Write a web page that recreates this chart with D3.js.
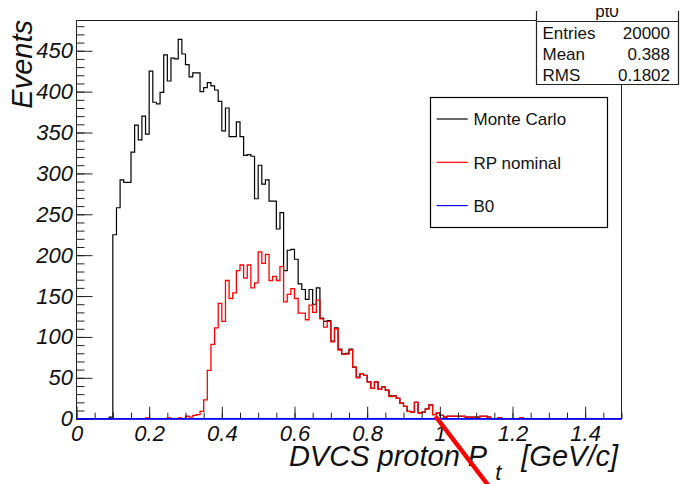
<!DOCTYPE html>
<html>
<head>
<meta charset="utf-8">
<script src="https://cdn.jsdelivr.net/npm/d3@7"></script>
<style>
  html, body { margin: 0; padding: 0; background: #fff; }
  svg { display: block; font-family: "Liberation Sans", Arial, Helvetica, sans-serif; }
</style>
</head>
<body>
<div id="chart"></div>
<script>
// ============================================
// DVCS proton Pt histogram (ROOT style) in D3
// ============================================

// ---- data: 150 bins of width 0.01 from 0 to 1.5 ----
const binLow = 0;
const binWidth = 0.01;

const mcCounts = [
  0, 0, 0, 0, 0, 0, 0, 0, 0, 2,
  225, 258, 292, 289, 289, 326, 359, 341, 370, 348,
  425, 387, 385, 399, 445, 413, 441, 440, 464, 446,
  433, 418, 423, 423, 400, 405, 411, 407, 402, 388,
  352, 380, 345, 345, 363, 345, 322, 323, 321, 269,
  310, 287, 292, 266, 266, 232, 252, 181, 206, 207,
  195, 165, 158, 146, 158, 140, 160, 123, 119, 120,
  95, 111, 85, 79, 80, 85, 63, 51, 55, 53,
  45, 37, 45, 36, 39, 35, 28, 28, 25, 19,
  15, 9, 8, 20, 7, 8, 12, 17, 5, 7,
  4, 2, 3, 3, 3, 3, 3, 2, 2, 2,
  2, 3, 3, 2, 0, 0, 1, 0, 0, 0,
  0, 0, 1, 0, 0, 0, 0, 0, 0, 0,
  0, 0, 0, 0, 0, 0, 0, 0, 0, 0,
  0, 0, 0, 0, 0, 0, 0, 0, 0, 0
];

const rpCounts = [
  0, 0, 0, 0, 0, 0, 0, 0, 0, 0,
  0, 0, 0, 0, 0, 0, 0, 0, 0, 1,
  0, 0, 0, 0, 0, 1, 0, 0, 1, 0,
  3, 2, 4, 5, 9, 23, 59, 91, 111, 141,
  119, 169, 147, 154, 181, 188, 172, 188, 160, 166,
  204, 190, 201, 169, 174, 169, 186, 143, 152, 159,
  147, 129, 129, 121, 139, 130, 145, 122, 112, 119,
  94, 110, 84, 79, 79, 84, 63, 50, 55, 53,
  45, 37, 45, 36, 39, 35, 27, 28, 25, 19,
  15, 9, 8, 20, 7, 8, 12, 17, 5, 7,
  4, 2, 3, 3, 3, 3, 3, 2, 2, 2,
  2, 3, 3, 2, 0, 0, 1, 0, 0, 0,
  0, 0, 1, 0, 0, 0, 0, 0, 0, 0,
  0, 0, 0, 0, 0, 0, 0, 0, 0, 0,
  0, 0, 0, 0, 0, 0, 0, 0, 0, 0
];

const b0Counts = [
  0, 0, 0, 0, 0, 0, 0, 0, 0, 0,
  0, 0, 0, 0, 0, 0, 0, 0, 0, 0,
  0, 0, 0, 0, 0, 0, 0, 0, 0, 0,
  0, 0, 0, 0, 0, 0, 0, 0, 0, 0,
  0, 0, 0, 0, 0, 0, 0, 0, 0, 0,
  0, 0, 0, 0, 0, 0, 0, 0, 0, 0,
  0, 0, 0, 0, 0, 0, 0, 0, 0, 0,
  0, 0, 0, 0, 0, 0, 0, 0, 0, 0,
  0, 0, 0, 0, 0, 0, 0, 0, 0, 0,
  0, 0, 0, 0, 0, 0, 0, 0, 0, 0,
  0, 0, 0, 0, 0, 0, 0, 0, 0, 0,
  0, 0, 0, 0, 0, 0, 0, 0, 0, 0,
  0, 0, 0, 0, 0, 0, 0, 0, 0, 0,
  0, 0, 0, 0, 0, 0, 0, 0, 0, 0,
  0, 0, 0, 0, 0, 0, 0, 0, 0, 0
];

const xTickValues = [0, 0.2, 0.4, 0.6, 0.8, 1.0, 1.2, 1.4];
const xTickLabels = ["0", "0.2", "0.4", "0.6", "0.8", "1", "1.2", "1.4"];
const yTickValues = [0, 50, 100, 150, 200, 250, 300, 350, 400, 450];

const legendNames = ["Monte Carlo", "RP nominal", "B0"];
const legendColors = ["#000000", "#ff0000", "#0000ff"];

const statsTitle = "pt0";
const statsNames = ["Entries", "Mean", "RMS"];
const statsValues = ["20000", "0.388", "0.1802"];

// hand-drawn red stroke, in data coordinates
const markStroke = [[0.988, 3], [1.165, -100]];

// ---- layout ----
const width = 682, height = 484;
const frame = { left: 76.5, right: 621.5, top: 20.5, bottom: 418.7 };

const svg = d3.select('#chart')
  .append('svg')
  .attr('width', width)
  .attr('height', height);

const x = d3.scaleLinear().domain([0, 1.5]).range([frame.left, frame.right]);
const y = d3.scaleLinear().domain([0, 487]).range([frame.bottom, frame.top]);

// Frame
svg.append('rect')
  .attr('x', frame.left)
  .attr('y', frame.top)
  .attr('width', frame.right - frame.left)
  .attr('height', frame.bottom - frame.top)
  .attr('fill', 'none')
  .attr('stroke', '#222')
  .attr('stroke-width', 1);

// Histogram step outlines
function stepPoints(counts) {
  const pts = counts.map((c, i) => [binLow + i * binWidth, c]);
  pts.push([binLow + counts.length * binWidth, counts[counts.length - 1]]);
  return pts;
}

const stepLine = d3.line()
  .x(d => x(d[0]))
  .y(d => y(d[1]))
  .curve(d3.curveStepAfter);

const series = [
  { counts: mcCounts, color: '#000000', w: 1.2 },
  { counts: rpCounts, color: '#ff0000', w: 1.3 },
  { counts: b0Counts, color: '#0000ff', w: 1.6 }
];

svg.append('g')
  .selectAll('path')
  .data(series)
  .enter().append('path')
  .attr('d', d => stepLine(stepPoints(d.counts)))
  .attr('fill', 'none')
  .attr('stroke', d => d.color)
  .attr('stroke-width', d => d.w);

// Axes: ROOT-style ticks pointing into the frame
const xAxis = d3.axisBottom(x)
  .tickValues(xTickValues)
  .tickSize(-12)
  .tickPadding(7)
  .tickFormat((d, i) => xTickLabels[i]);

const xMinor = d3.axisBottom(x)
  .tickValues(d3.range(0, 1.5001, 0.05))
  .tickSize(-6)
  .tickFormat('');

const yAxis = d3.axisLeft(y)
  .tickValues(yTickValues)
  .tickSize(-16)
  .tickPadding(3.5)
  .tickFormat(d3.format('d'));

const yMinor = d3.axisLeft(y)
  .tickValues(d3.range(0, 481, 10))
  .tickSize(-8)
  .tickFormat('');

[xMinor, xAxis].forEach(ax => {
  svg.append('g')
    .attr('transform', `translate(0,${frame.bottom})`)
    .call(ax)
    .call(g => g.select('.domain').remove());
});

[yMinor, yAxis].forEach(ax => {
  svg.append('g')
    .attr('transform', `translate(${frame.left},0)`)
    .call(ax)
    .call(g => g.select('.domain').remove());
});

svg.selectAll('.tick line').attr('stroke', '#222').attr('stroke-width', 1);
svg.selectAll('.tick text')
  .attr('fill', '#111')
  .style('font-family', '"Liberation Sans", Arial, sans-serif')
  .style('font-style', 'italic')
  .style('font-size', '22px');

// B0 drawn last along the baseline, over the tick roots
svg.append('path')
  .attr('d', stepLine(stepPoints(b0Counts)))
  .attr('fill', 'none')
  .attr('stroke', '#0000ff')
  .attr('stroke-width', 1.6);

// Axis titles
const xTitle = svg.append('text')
  .attr('x', 618)
  .attr('y', 466)
  .attr('text-anchor', 'end')
  .attr('fill', '#111')
  .style('font-style', 'italic')
  .style('font-size', '29px');
xTitle.append('tspan').text('DVCS proton P');
xTitle.append('tspan').attr('dx', 8).attr('dy', 14).style('font-size', '22px').text('t');
xTitle.append('tspan').attr('dx', 20).attr('dy', -14).text('[GeV/c]');

svg.append('text')
  .attr('transform', 'translate(32,20) rotate(-90)')
  .attr('text-anchor', 'end')
  .attr('fill', '#111')
  .style('font-style', 'italic')
  .style('font-size', '29px')
  .text('Events');

// Legend
const legend = svg.append('g');
legend.append('rect')
  .attr('x', 430.5).attr('y', 97.5)
  .attr('width', 177).attr('height', 130)
  .attr('fill', '#fff')
  .attr('stroke', '#000')
  .attr('stroke-width', 1.2);

const rows = legend.selectAll('g.row')
  .data(legendNames)
  .enter().append('g')
  .attr('class', 'row')
  .attr('transform', (d, i) => `translate(0,${119 + i * 43.3})`);

rows.append('line')
  .attr('x1', 436.7).attr('x2', 467.7)
  .attr('stroke', (d, i) => legendColors[i])
  .attr('stroke-width', 1.2);

rows.append('text')
  .attr('x', 473.5)
  .attr('y', 6.3)
  .attr('fill', '#111')
  .style('font-size', '17px')
  .text(d => d);

// Stats box (top clipped as in the source image)
const stats = svg.append('g');
stats.append('rect')
  .attr('x', 536.5).attr('y', 0)
  .attr('width', 142).attr('height', 84)
  .attr('fill', '#fff');

svg.append('defs').append('clipPath')
  .attr('id', 'statsClip')
  .append('rect')
  .attr('x', 536).attr('y', 8).attr('width', 143).attr('height', 14);

stats.append('text')
  .attr('x', 607)
  .attr('y', 16.5)
  .attr('text-anchor', 'middle')
  .attr('clip-path', 'url(#statsClip)')
  .attr('fill', '#111')
  .style('font-size', '17px')
  .text(statsTitle);

stats.append('path')
  .attr('d', 'M536.5,11V84.5H678.5V11M536.5,21.5H678.5')
  .attr('fill', 'none')
  .attr('stroke', '#222')
  .attr('stroke-width', 1.2);

stats.selectAll('text.name')
  .data(statsNames)
  .enter().append('text')
  .attr('class', 'name')
  .attr('x', 542.5)
  .attr('y', (d, i) => 39.3 + i * 20.7)
  .attr('fill', '#111')
  .style('font-size', '17px')
  .text(d => d);

stats.selectAll('text.value')
  .data(statsValues)
  .enter().append('text')
  .attr('class', 'value')
  .attr('x', 670)
  .attr('y', (d, i) => 39.3 + i * 20.7)
  .attr('text-anchor', 'end')
  .attr('fill', '#111')
  .style('font-size', '17px')
  .text(d => d);

// Red hand-drawn stroke on top of everything
svg.append('line')
  .attr('x1', x(markStroke[0][0])).attr('y1', y(markStroke[0][1]))
  .attr('x2', x(markStroke[1][0])).attr('y2', y(markStroke[1][1]))
  .attr('stroke', '#ff0000')
  .attr('stroke-width', 4.5);
</script>
</body>
</html>
